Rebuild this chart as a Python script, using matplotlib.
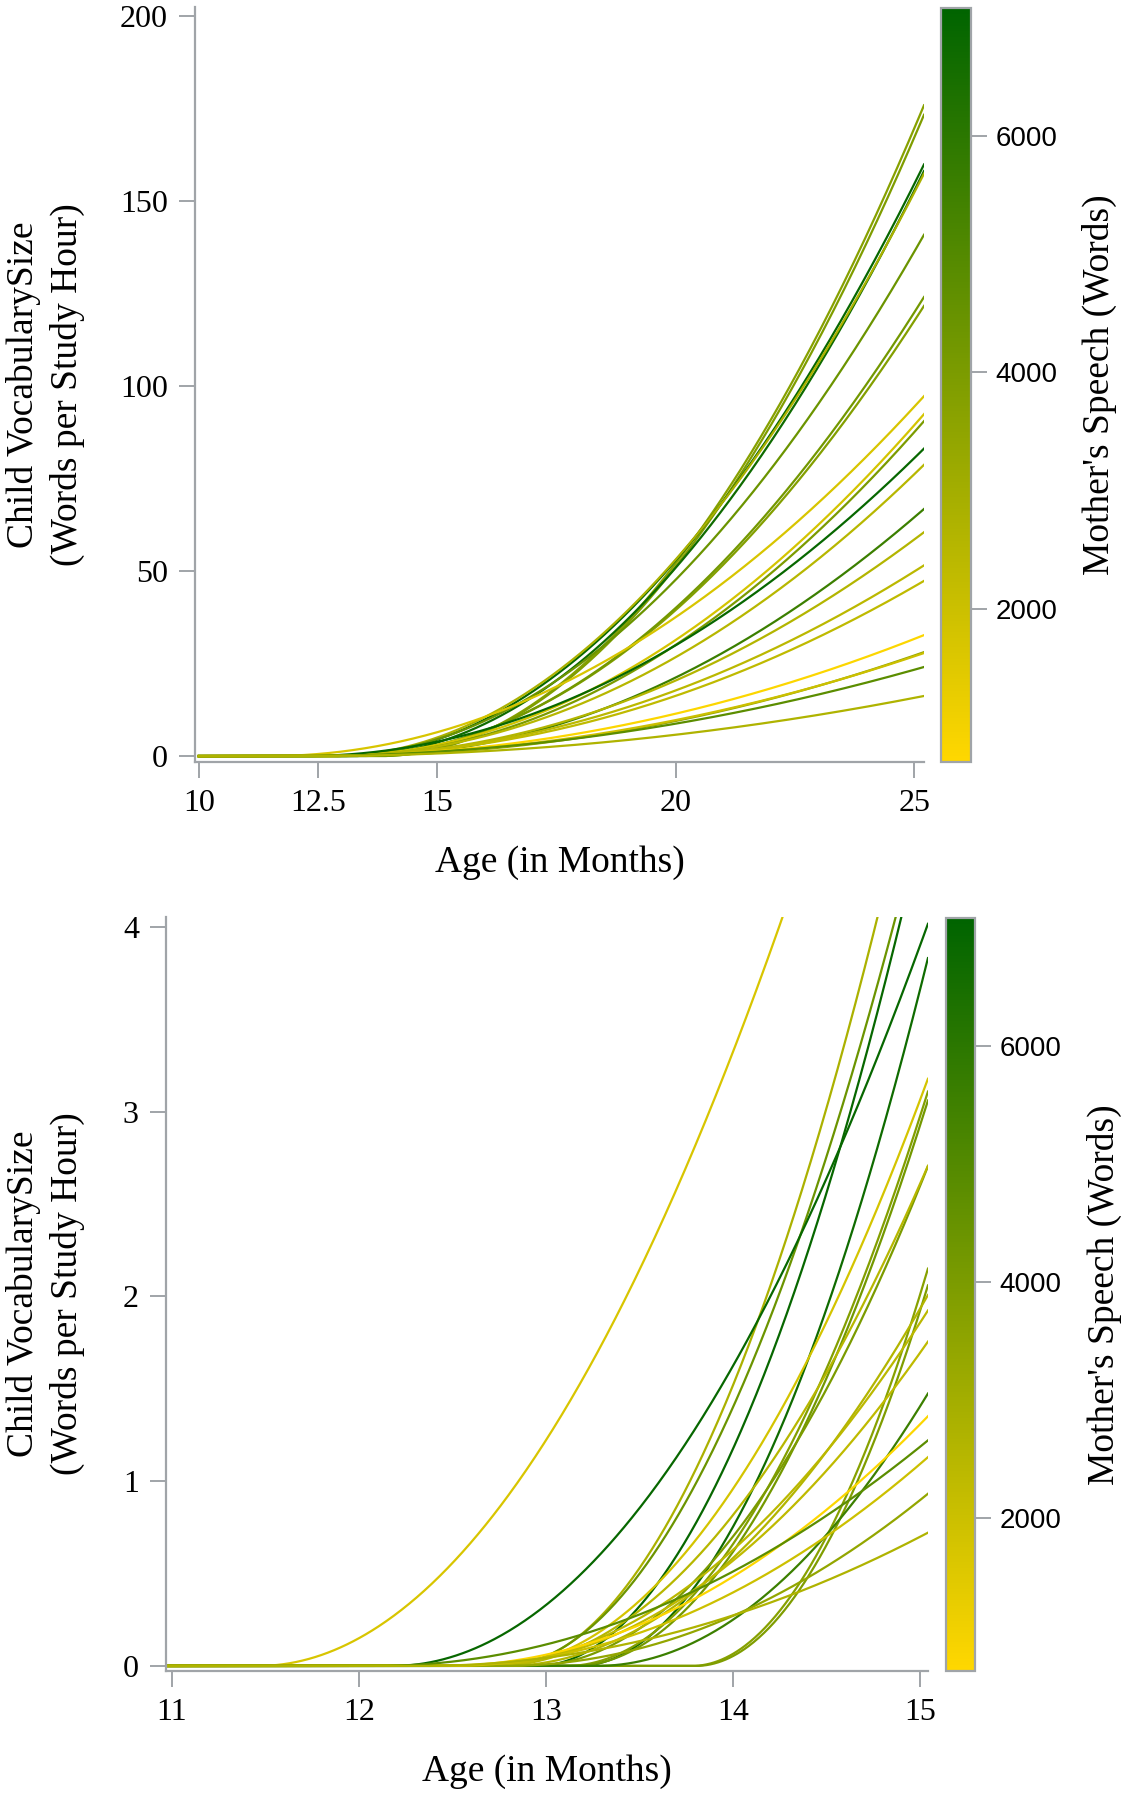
import numpy as np
import matplotlib
matplotlib.use("Agg")
import matplotlib.pyplot as plt
from matplotlib.colors import LinearSegmentedColormap, Normalize
from matplotlib.cm import ScalarMappable

# per-child growth curves: vocab = rate * (age - onset)^2 after onset
onset = [13.78, 13.80, 12.95, 13.17, 12.78, 12.76, 13.11, 13.15, 12.73, 11.46, 12.92,
         12.18, 12.73, 13.27, 12.78, 12.61, 12.62, 12.45, 12.78, 12.48, 12.09, 12.33]
rate = [1.348, 1.333, 1.065, 1.092, 1.02, 0.91, 0.832, 0.854, 0.594, 0.515, 0.60,
        0.49, 0.506, 0.469, 0.392, 0.325, 0.299, 0.201, 0.182, 0.172, 0.14, 0.098]
speech = [3700, 3900, 6900, 6700, 2800, 4400, 3800, 4200, 1800, 1700, 4000,
          6900, 2500, 5600, 2600, 2400, 2300, 800, 3400, 2000, 4800, 2700]

top_xticks = [10, 12.5, 15, 20, 25]
top_yticks = [0, 50, 100, 150, 200]
bot_xticks = [11, 12, 13, 14, 15]
bot_yticks = [0, 1, 2, 3, 4]
cbar_ticks = [2000, 4000, 6000]
speech_range = (706, 7080)

plt.rcParams['font.family'] = ['Liberation Serif', 'DejaVu Serif']
GREY = '#A0A4A8'

cmap = LinearSegmentedColormap.from_list('speech', ['#FFD700', '#006400'])
norm = Normalize(*speech_range)


def vocab(age, t0, a):
    return a * np.clip(age - t0, 0, None) ** 2


fig = plt.figure(figsize=(11.26, 18), dpi=100)

panels = [
    dict(rect=[0.1732, 0.5768, 0.6474, 0.4194], crect=[0.8357, 0.5767, 0.0266, 0.4189],
         xlim=(9.92, 25.2), span=(10, 25.2), ylim=(-1.54, 202.4),
         xticks=top_xticks, yticks=top_yticks, ylab_x=-0.205, clab_x=5.3),
    dict(rect=[0.1474, 0.0717, 0.6767, 0.4189], crect=[0.8401, 0.0717, 0.0258, 0.4183],
         xlim=(10.968, 15.043), span=(10.97, 15.043), ylim=(-0.027, 4.054),
         xticks=bot_xticks, yticks=bot_yticks, ylab_x=-0.158, clab_x=5.45),
]

for p in panels:
    ax = fig.add_axes(p['rect'])
    ages = np.linspace(p['span'][0], p['span'][1], 600)
    for t0, a, s in zip(onset, rate, speech):
        ax.plot(ages, vocab(ages, t0, a), color=cmap(norm(s)), lw=1.6)
    ax.set_xlim(*p['xlim'])
    ax.set_ylim(*p['ylim'])
    ax.set_xticks(p['xticks'])
    ax.set_xticklabels([f"{t:g}" for t in p['xticks']])
    ax.set_yticks(p['yticks'])
    for side in ['top', 'right']:
        ax.spines[side].set_visible(False)
    for side in ['left', 'bottom']:
        ax.spines[side].set_color(GREY)
        ax.spines[side].set_linewidth(1.6)
    ax.tick_params(direction='out', length=11.5, width=1.4, color=GREY,
                   labelsize=23, pad=8)
    ax.set_xlabel('Age (in Months)', fontsize=27, va='center')
    ax.xaxis.set_label_coords(0.5, -0.134)
    ax.set_ylabel('Child VocabularySize\n(Words per Study Hour)', fontsize=27,
                  va='center', ha='center', linespacing=1.3)
    ax.yaxis.set_label_coords(p['ylab_x'], 0.5)

    cax = fig.add_axes(p['crect'])
    cb = fig.colorbar(ScalarMappable(norm=norm, cmap=cmap), cax=cax, ticks=cbar_ticks)
    cb.outline.set_edgecolor(GREY)
    cb.outline.set_linewidth(1.6)
    cax.tick_params(direction='out', length=11.5, width=1.4, color=GREY,
                    labelsize=20, pad=6)
    for lab in cax.get_yticklabels():
        lab.set_fontfamily('Liberation Sans')
    cb.set_label("Mother's Speech (Words)", fontsize=27, va='center')
    cax.yaxis.set_label_coords(p['clab_x'], 0.5)

fig.savefig('out.png', dpi=100)
